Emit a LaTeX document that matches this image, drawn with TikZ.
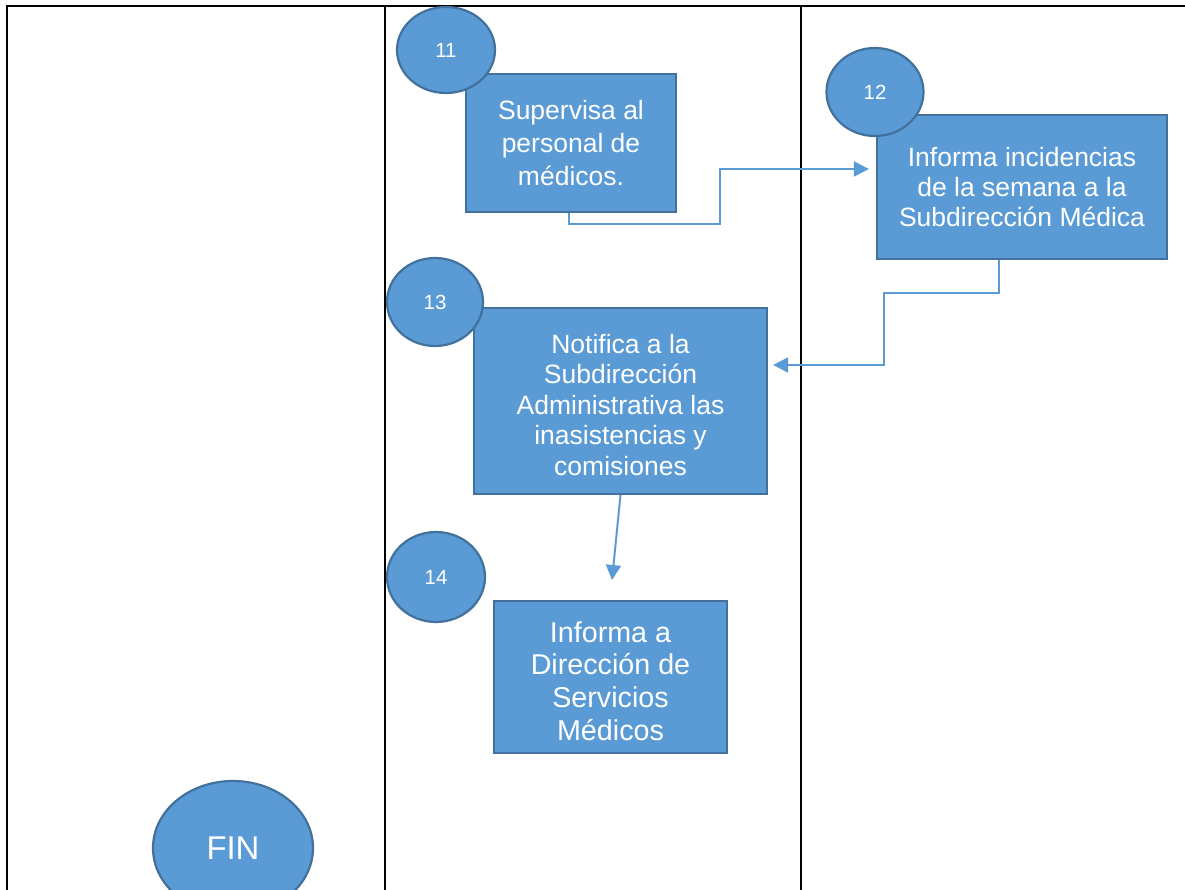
\documentclass[tikz,border=0pt]{standalone}
\usepackage{fontspec}
\setmainfont{Liberation Sans}
\usetikzlibrary{shapes.geometric,arrows.meta}
\definecolor{boxfill}{HTML}{5B9BD5}
\definecolor{boxline}{HTML}{41719C}
\definecolor{connc}{HTML}{5B9BD5}
\tikzset{
  procbox/.style={rectangle, draw=boxline, line width=2.2bp, fill=boxfill, text=white, align=center, inner sep=0pt},
  numcirc/.style={ellipse, draw=boxline, line width=2.2bp, fill=boxfill, text=white, inner sep=0pt, font=\fontsize{20.5}{23}\selectfont},
  conn/.style={draw=connc, line width=2bp, -{Triangle[length=15bp,width=15bp]}},
  tabline/.style={draw=black, line width=2.6bp},
  txtA/.style={font=\fontsize{26.6}{33}\selectfont},
  txtC/.style={font=\fontsize{26.6}{30.5}\selectfont},
  txtB/.style={font=\fontsize{28.8}{33}\selectfont}
}
\begin{document}
\begin{tikzpicture}[x=1bp,y=-1bp]
\useasboundingbox (0,0) rectangle (1185,890);
\fill[white] (0,0) rectangle (1185,890);
% table lines
\draw[tabline] (7,891) -- (7,6) -- (1186,6);
\draw[tabline] (385,6) -- (385,891);
\draw[tabline] (801,6) -- (801,891);
% boxes
\node[procbox, txtA, minimum width=210bp, minimum height=138bp] (b11) at (571,143) {Supervisa al\\personal de\\médicos.};
\node[procbox, txtC, minimum width=290bp, minimum height=144bp] (b12) at (1022,187) {Informa incidencias\\de la semana a la\\Subdirección Médica};
\node[procbox, txtC, minimum width=293bp, minimum height=186bp] (b13) at (620.5,401) {\rule{0pt}{27bp}Notifica a la\\Subdirección\\Administrativa las\\inasistencias y\\comisiones};
\node[procbox, txtB, minimum width=233bp, minimum height=152bp] (b14) at (610.5,677) {\rule{0pt}{29bp}Informa a\\Dirección de\\Servicios\\Médicos};
% circles
\node[numcirc, minimum width=98bp, minimum height=86bp] (c11) at (446,50) {11};
\node[numcirc, minimum width=97bp, minimum height=88bp] (c12) at (875,92) {12};
\node[numcirc, minimum width=96bp, minimum height=88bp] (c13) at (435,302) {13};
\node[numcirc, minimum width=98bp, minimum height=90bp] (c14) at (436,577) {14};
\node[numcirc, font=\fontsize{33}{36}\selectfont, minimum width=160bp, minimum height=134bp] (fin) at (233,848) {FIN};
% connectors
\coordinate (k1) at (720,224);
\draw[conn, shorten >=7bp] ([xshift=-2bp]b11.south) |- (k1) |- ([yshift=18bp]b12.west);
\coordinate (k2) at (884,293);
\draw[conn, shorten >=5bp] ([xshift=-23bp]b12.south) |- (k2) |- ([yshift=36bp]b13.east);
\coordinate (k3) at (612,580);
\draw[conn] (b13.south) -- (k3);
\end{tikzpicture}
\end{document}
